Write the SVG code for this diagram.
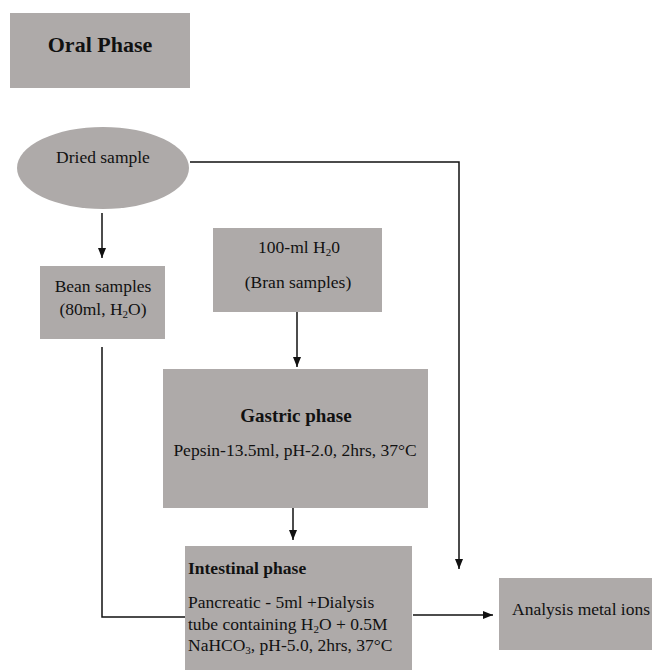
<svg xmlns="http://www.w3.org/2000/svg" width="652" height="670" viewBox="0 0 652 670">
<defs>
<style>
.box{fill:#aeaaa9;}
.t{font-family:"Liberation Serif","Times New Roman",serif;font-size:17.5px;fill:#111;}
.b{font-weight:bold;}
.c{text-anchor:middle;}
.ln{fill:none;stroke:#111;stroke-width:1.5;}
</style>
<marker id="ah" viewBox="0 0 10 8" refX="10" refY="4" markerWidth="10" markerHeight="8" markerUnits="userSpaceOnUse" orient="auto">
<path d="M0,0 L10,4 L0,8 Z" fill="#111"/>
</marker>
</defs>
<rect width="652" height="670" fill="#fff"/>
<g id="oral">
<rect class="box" x="10" y="13" width="180" height="75"/>
<text class="t b c" x="100" y="52" style="font-size:22px">Oral Phase</text>
</g>
<g id="dried">
<ellipse class="box" cx="103" cy="168" rx="86" ry="41"/>
<text class="t c" x="103" y="163">Dried sample</text>
</g>
<g id="bean">
<rect class="box" x="40" y="266" width="125" height="73"/>
<text class="t c" x="103" y="292">Bean samples</text>
<text class="t c" x="103" y="315">(80ml, H<tspan style="font-size:11px" dy="3">2</tspan><tspan dy="-3">O)</tspan></text>
</g>
<g id="bran">
<rect class="box" x="213" y="228" width="169" height="84"/>
<text class="t c" x="299" y="253">100-ml H<tspan style="font-size:11px" dy="3">2</tspan><tspan dy="-3">0</tspan></text>
<text class="t c" x="298" y="288">(Bran samples)</text>
</g>
<g id="gastric">
<rect class="box" x="163" y="369" width="265" height="139"/>
<text class="t b c" x="296" y="422" style="font-size:19px">Gastric phase</text>
<text class="t c" x="295" y="456">Pepsin-13.5ml, pH-2.0, 2hrs, 37°C</text>
</g>
<g id="intestinal">
<rect class="box" x="185" y="546" width="227" height="124"/>
<text class="t b" x="188" y="574">Intestinal phase</text>
<text class="t" x="188" y="608">Pancreatic - 5ml +Dialysis</text>
<text class="t" x="188" y="630">tube containing H<tspan style="font-size:11px" dy="3">2</tspan><tspan dy="-3">O + 0.5M</tspan></text>
<text class="t" x="188" y="651">NaHCO<tspan style="font-size:11px" dy="3">3</tspan><tspan dy="-3">, pH-5.0, 2hrs, 37°C</tspan></text>
</g>
<g id="analysis">
<rect class="box" x="499" y="578" width="153" height="72"/>
<text class="t" x="512" y="615">Analysis metal ions</text>
</g>
<g id="connectors">
<path class="ln" d="M102,213 V258" marker-end="url(#ah)"/>
<path class="ln" d="M190,162 H459 V569" marker-end="url(#ah)"/>
<path class="ln" d="M297,312 V367" marker-end="url(#ah)"/>
<path class="ln" d="M293,508 V540" marker-end="url(#ah)"/>
<path class="ln" d="M102,347 V617 H185"/>
<path class="ln" d="M413,615 H493" marker-end="url(#ah)"/>
</g>
</svg>
